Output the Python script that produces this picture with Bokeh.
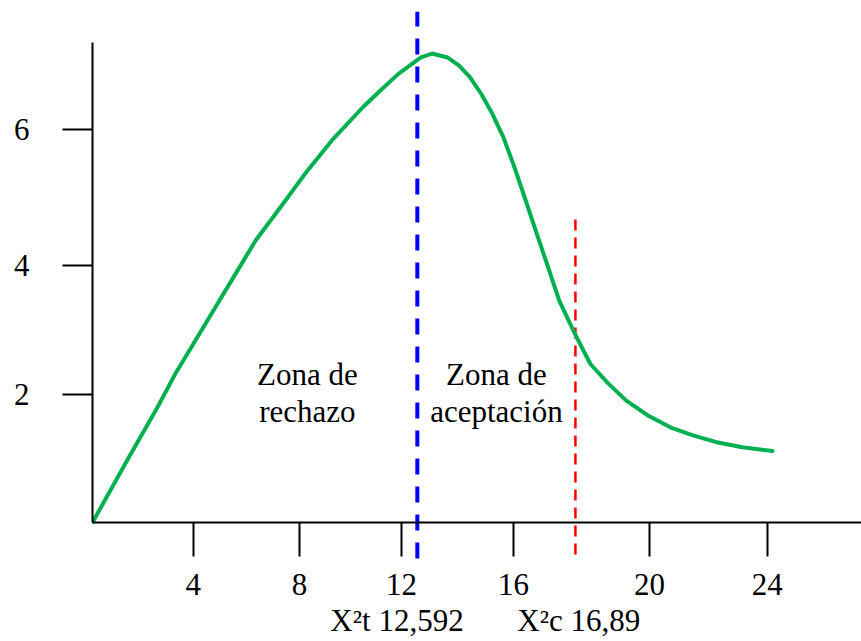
from bokeh.plotting import figure
from bokeh.models import FixedTicker, LinearAxis, Range1d
from bokeh.core.properties import value
from bokeh.embed import file_html
from bokeh.resources import INLINE

# ---- data ----
curve_x = [0.0, 1.40, 2.52, 3.21, 3.99, 4.77, 5.55, 6.33, 7.28, 8.23, 9.27,
           10.48, 11.17, 11.86, 12.73, 13.16, 13.76, 14.20, 14.63, 15.06, 15.50,
           15.93, 16.36, 16.79, 17.22, 17.66, 18.09, 18.70, 19.30, 20.00, 20.69,
           21.55, 22.42, 23.28, 24.15, 25.19, 26.36]
curve_y = [0.0, 0.99, 1.76, 2.27, 2.78, 3.29, 3.80, 4.31, 4.81, 5.32, 5.83,
           6.34, 6.60, 6.85, 7.10, 7.16, 7.10, 6.98, 6.80, 6.55, 6.24,
           5.88, 5.42, 4.92, 4.41, 3.90, 3.39, 2.88, 2.42, 2.12, 1.86,
           1.63, 1.45, 1.33, 1.23, 1.15, 1.09]

x_tick_pos = [3.91, 8.02, 11.98, 16.32, 21.59, 26.16]
x_tick_labels = ["4", "8", "12", "16", "20", "24"]
y_tick_pos = [1.95, 3.92, 6.0]
y_tick_labels = ["2", "4", "6"]

chi_t = 12.592          # blue dashed line (tabulated)
chi_c_drawn = 18.72     # red dotted line as drawn
blue_y = [-0.55, 7.80]
red_y = [-0.49, 4.66]

zone_line1 = ["Zona de", "Zona de"]
zone_line2 = ["rechazo", "aceptación"]
zone_x = [8.33, 15.66]
zone_y1 = [2.26, 2.26]
zone_y2 = [1.69, 1.69]

bottom_texts = ["X\u00b2t 12,592", "X\u00b2c 16,89"]
bottom_x = [9.22, 16.47]
bottom_y = [-1.50, -1.50]

FONT = "Liberation Serif"
FSIZE = "31px"

p = figure(width=861, height=641,
           x_range=Range1d(0, 29.81), y_range=Range1d(-1.817, 7.97),
           output_backend="svg", toolbar_location=None,
           x_axis_location=None, y_axis_location=None,
           min_border_left=92, min_border_right=0,
           min_border_top=0, min_border_bottom=0)
p.grid.visible = False
p.outline_line_color = None
p.background_fill_color = "white"

# y axis
yaxis = LinearAxis(bounds=(0, 7.33), ticker=FixedTicker(ticks=y_tick_pos),
                   major_label_overrides={k: v for k, v in zip(y_tick_pos, y_tick_labels)})
yaxis.axis_line_width = 2
yaxis.axis_line_color = "black"
yaxis.major_tick_line_width = 2
yaxis.major_tick_line_color = "black"
yaxis.major_tick_out = 30
yaxis.major_tick_in = 0
yaxis.minor_tick_line_color = None
yaxis.major_label_standoff = 33
yaxis.major_label_text_font = FONT
yaxis.major_label_text_font_size = FSIZE
yaxis.major_label_text_color = "black"
p.add_layout(yaxis, "left")

# x axis at y = 0
xaxis = LinearAxis(fixed_location=0, ticker=FixedTicker(ticks=x_tick_pos),
                   major_label_overrides={k: v for k, v in zip(x_tick_pos, x_tick_labels)})
xaxis.axis_line_width = 2
xaxis.axis_line_color = "black"
xaxis.major_tick_line_width = 2
xaxis.major_tick_line_color = "black"
xaxis.major_tick_out = 34
xaxis.major_tick_in = 0
xaxis.minor_tick_line_color = None
xaxis.major_label_standoff = 18
xaxis.major_label_text_font = FONT
xaxis.major_label_text_font_size = FSIZE
xaxis.major_label_text_color = "black"
p.add_layout(xaxis, "below")

# critical lines
p.segment(x0=[chi_t], y0=[blue_y[0]], x1=[chi_t], y1=[blue_y[1]],
          line_color="#0000ff", line_width=4, line_dash="16 12")
p.segment(x0=[chi_c_drawn], y0=[red_y[0]], x1=[chi_c_drawn], y1=[red_y[1]],
          line_color="#ff0000", line_width=2.5, line_dash="11 7")

# curve
p.line(curve_x, curve_y, line_color="#00b050", line_width=4,
       line_join="round", line_cap="round")

# texts
p.text(x=zone_x, y=zone_y1, text=zone_line1, text_font=value(FONT),
       text_font_size=value(FSIZE), text_align="center", text_baseline="alphabetic",
       text_color="black")
p.text(x=zone_x, y=zone_y2, text=zone_line2, text_font=value(FONT),
       text_font_size=value(FSIZE), text_align="center", text_baseline="alphabetic",
       text_color="black")
p.text(x=bottom_x, y=bottom_y, text=bottom_texts, text_font=value(FONT),
       text_font_size=value(FSIZE), text_align="left", text_baseline="alphabetic",
       text_color="black")

open("out.html", "w").write(file_html(p, INLINE))
